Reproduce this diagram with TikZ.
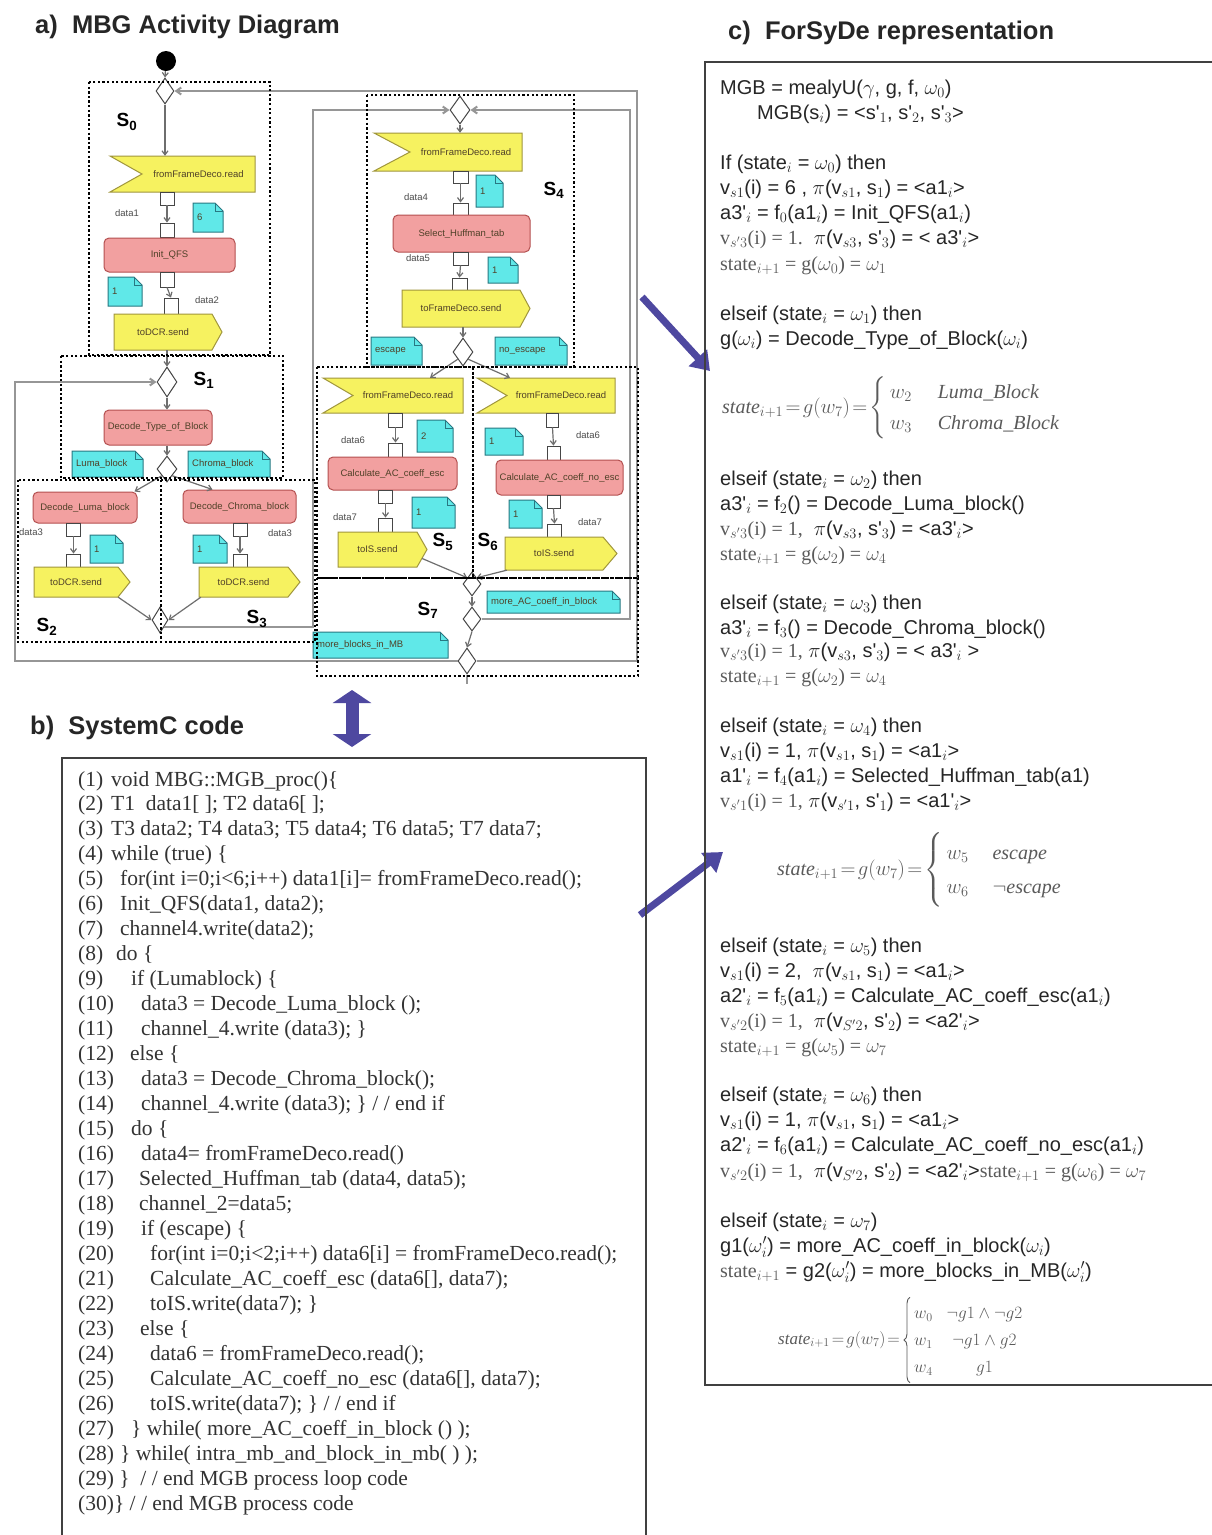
\documentclass[tikz,border=0pt]{standalone}
\usepackage{fontspec}
\usepackage{amsmath}
\setmainfont{Liberation Serif}
\newfontfamily\fsans{Liberation Sans}
\newfontfamily\fserif{Liberation Serif}
\usetikzlibrary{arrows.meta,shapes.geometric,decorations.pathreplacing}
\definecolor{yfill}{RGB}{246,242,96}
\definecolor{ydraw}{RGB}{160,150,60}
\definecolor{pfill}{RGB}{242,160,160}
\definecolor{pdraw}{RGB}{180,80,80}
\definecolor{cfill}{RGB}{96,232,232}
\definecolor{cdraw}{RGB}{40,120,130}
\definecolor{arrc}{RGB}{78,72,160}
\definecolor{flowc}{RGB}{110,110,110}
\definecolor{loopc}{RGB}{150,150,150}
\definecolor{ntext}{RGB}{80,65,40}
\definecolor{serc}{RGB}{90,90,90}
\newcommand\tinyf{\fsans\fontsize{9.5}{11}\selectfont}
\newcommand\sercol{\fserif\color{serc}}
\tikzset{
 flowarr/.style={draw=flowc, line width=1.2pt, -{Straight Barb[length=4pt,width=6pt]}},
 loopline/.style={draw=loopc, line width=2pt, -{Straight Barb[length=5pt,width=7pt]}},
 plainloop/.style={draw=loopc, line width=2pt},
 pinbox/.style={draw=gray!55!black, fill=white, line width=0.9pt, inner sep=0, minimum width=14pt, minimum height=13pt},
 actbox/.style={draw=pdraw, fill=pfill, rounded corners=5pt, line width=1pt, inner sep=0, font=\tinyf, text=ntext},
 sigst/.style={draw=ydraw, fill=yfill, line width=1pt, line join=miter},
 notest/.style={draw=cdraw, fill=cfill, line width=1pt},
 notefold/.style={draw=cdraw, line width=0.8pt},
 nodetext/.style={font=\tinyf, text=ntext, inner sep=0},
 diam/.style={diamond, draw=gray!55!black, fill=white, inner sep=0, line width=1pt},
 sdotted/.style={draw=black, line width=2.3pt, dash pattern=on 2.3pt off 2.3pt},
 slab/.style={font=\fsans\bfseries\fontsize{19}{22}\selectfont, inner sep=0},
 dlab/.style={font=\tinyf, text=gray!60!black, inner sep=0},
 head/.style={font=\fsans\bfseries\fontsize{25.5}{30}\selectfont, anchor=base west, inner sep=0, text=black!85},
 fsline/.style={font=\fsans\fontsize{20}{24}\selectfont, anchor=base west, inner sep=0, text=black!85},
 fsform/.style={font=\fserif\fontsize{20}{31}\selectfont, anchor=west, inner sep=0, text=serc},
 codef/.style={font=\fserif\fontsize{21.5}{25}\selectfont, anchor=base west, inner sep=0, text=black!80},
 boxline/.style={draw=black!75, line width=2pt},
 bigarr/.style={draw=arrc, line width=7pt, -{Triangle[length=18pt,width=24pt]}},
 dblarr/.style={draw=arrc, line width=13pt, {Triangle[length=13pt,width=38pt]}-{Triangle[length=13pt,width=38pt]}},
 bracest/.style={draw=serc, line width=0.9pt, decorate, decoration={brace, amplitude=6pt}},
}
% receive signal: name, xl, xr, yt, yb, notch, text
\newcommand\recvsig[7]{%
 \draw[sigst] (#2,#4) -- (#3,#4) -- (#3,#5) -- (#2,#5) -- ({#2+#6},{(#4+#5)/2}) -- cycle;
 \node[inner sep=0, minimum width={#3-#2}, minimum height={#5-#4}] (#1) at ({(#2+#3)/2},{(#4+#5)/2}) {};
 \node[nodetext] (#1t) at ({(#2+#6+#3)/2},{(#4+#5)/2}) {#7};}
% send signal: name, xl, xr, yt, yb, tip, text
\newcommand\sendsig[7]{%
 \draw[sigst] (#2,#4) -- ({#3-#6},#4) -- (#3,{(#4+#5)/2}) -- ({#3-#6},#5) -- (#2,#5) -- cycle;
 \node[inner sep=0, minimum width={#3-#2}, minimum height={#5-#4}] (#1) at ({(#2+#3)/2},{(#4+#5)/2}) {};
 \node[nodetext] (#1t) at ({(#2+#3-#6)/2},{(#4+#5)/2}) {#7};}
% note: name, xl, xr, yt, yb, text
\newcommand\notedoc[6]{%
 \draw[notest] (#2,#4) -- ({#3-8},#4) -- (#3,{#4+8}) -- (#3,#5) -- (#2,#5) -- cycle;
 \draw[notefold] ({#3-8},#4) -- ({#3-8},{#4+8}) -- (#3,{#4+8});
 \node[nodetext, anchor=west] (#1) at ({#2+4},{(#4+#5)/2}) {#6};}
\newcommand\codeln[3]{%
 \node[codef] (cn#1) at (78,{786+(#1-1)*24.966}) {(#1)};
 \node[codef] (cl#1) at (#2,{786+(#1-1)*24.966}) {#3};}
\newcommand\fsyline[3]{\node[fsline] (#1) at (720,{#2+7}) {#3};}
\begin{document}
\begin{tikzpicture}[x=1pt,y=-1pt]
\useasboundingbox (0,0) rectangle (1212,1535);
\fill[white] (0,0) rectangle (1212,1535);

% ---------------- headings
\node[head] (ha) at (35,33) {a)\ \ MBG Activity Diagram};
\node[head] (hc) at (728,39) {c)\ \ ForSyDe representation};
\node[head] (hb) at (30,734) {b)\ \ SystemC code};

% ---------------- loop coordinates
\coordinate (cIL) at (313,110);
\coordinate (cIR) at (630,110);
\coordinate (cOL) at (15,382);
\coordinate (cOR) at (637,91);
\coordinate (cEx) at (467,684);

% ---------------- diamonds and start
\node[circle, fill=black, minimum size=20pt, inner sep=0] (init) at (166,61) {};
\node[diam, minimum width=18pt, minimum height=26pt] (d0) at (165,91) {};
\node[diam, minimum width=20pt, minimum height=30pt] (d1) at (167,382) {};
\node[diam, minimum width=20pt, minimum height=26pt] (d2) at (167,469) {};
\node[diam, minimum width=16pt, minimum height=26pt] (m1) at (160,620) {};
\node[diam, minimum width=20pt, minimum height=28pt] (d4) at (460,110) {};
\node[diam, minimum width=20pt, minimum height=28pt] (d5) at (463,352) {};
\node[diam, minimum width=18pt, minimum height=24pt] (m2) at (472,584) {};
\node[diam, minimum width=18pt, minimum height=24pt] (d6) at (472,619) {};
\node[diam, minimum width=18pt, minimum height=26pt] (d7) at (467,661) {};

% ---------------- loop lines
\draw[loopline] (m1.south east) -- (m1.south east -| cIL) -- (cIL) -- (d4.west);
\draw[loopline] (d6.east) -- (d6.east -| cIR) -- (cIR) -- (d4.east);
\draw[loopline] (d7.west) -- (d7.west -| cOL) -- (cOL) -- (d1.west);
\draw[loopline] (d7.east) -- (d7.east -| cOR) -- (cOR) -- (d0.east);
\draw[plainloop] (d7.south) -- (cEx);

% ---------------- S0
\recvsig{r1}{110}{255}{156}{192}{32}{fromFrameDeco.read}
\node[pinbox] (p1o) at (167,198.5) {};
\node[pinbox, minimum height=14pt] (p1i) at (167,230) {};
\node[dlab] (l1) at (127,213) {data1};
\notedoc{n0a}{193}{223}{203}{232}{6}
\node[actbox, minimum width=131pt, minimum height=34pt] (iqfs) at (169.5,255) {Init\_QFS};
\node[pinbox, minimum height=15pt] (p2o) at (167,279.5) {};
\node[pinbox, minimum height=16pt] (p2i) at (171,306) {};
\notedoc{n0b}{108}{142}{277}{306}{1}
\node[dlab] (l2) at (207,300) {data2};
\sendsig{s1}{114}{222}{314}{350}{10}{toDCR.send}

% ---------------- S1
\node[actbox, minimum width=108pt, minimum height=35pt] (dtb) at (158,427.5) {Decode\_Type\_of\_Block};
\notedoc{nl}{72}{143}{451}{477}{Luma\_block}
\notedoc{nc}{188}{270}{451}{477}{Chroma\_block}

% ---------------- S2 / S3
\node[actbox, minimum width=104pt, minimum height=31pt] (dlb) at (85,507.5) {Decode\_Luma\_block};
\node[actbox, minimum width=113pt, minimum height=33pt] (dcb) at (239.5,506.5) {Decode\_Chroma\_block};
\node[dlab] (l3a) at (31,532) {data3};
\node[dlab] (l3b) at (280,533) {data3};
\node[pinbox] (p3o) at (73.5,529.5) {};
\node[pinbox] (p3i) at (73.5,560.5) {};
\node[pinbox] (p4o) at (240,529.5) {};
\node[pinbox] (p4i) at (240,560.5) {};
\notedoc{n2}{90}{123}{535}{563}{1}
\notedoc{n3}{193}{227}{535}{563}{1}
\sendsig{s2}{34}{130}{567}{597}{12}{toDCR.send}
\sendsig{s3}{199}{300}{567}{597}{12}{toDCR.send}

% ---------------- S4
\recvsig{r4}{374}{522}{133}{171}{36}{fromFrameDeco.read}
\node[pinbox, minimum width=15pt, minimum height=12pt] (p5o) at (460.5,177) {};
\node[pinbox, minimum width=15pt, minimum height=12pt] (p5i) at (460.5,209) {};
\notedoc{n4a}{476}{503}{175}{207}{1}
\node[dlab] (l4) at (416,197) {data4};
\node[actbox, minimum width=137pt, minimum height=37pt] (shb) at (461.5,233.5) {Select\_Huffman\_tab};
\node[dlab] (l5) at (418,258) {data5};
\node[pinbox, minimum width=15pt] (p6o) at (460.5,258.5) {};
\node[pinbox, minimum width=15pt, minimum height=12pt] (p6i) at (459.5,284) {};
\notedoc{n4b}{488}{518}{257}{283}{1}
\sendsig{s4}{402}{530}{290}{327}{10}{toFrameDeco.send}
\notedoc{nesc}{371}{422}{337}{365}{escape}
\notedoc{nnesc}{495}{567}{337}{365}{no\_escape}

% ---------------- S5
\recvsig{r5}{323}{463}{378}{413}{30}{fromFrameDeco.read}
\node[pinbox, minimum height=14pt] (p7o) at (395.5,420) {};
\node[pinbox, minimum height=14pt] (p7i) at (395.5,450) {};
\node[dlab] (l6a) at (353,440) {data6};
\notedoc{n5a}{417}{453}{420}{452}{2}
\node[actbox, minimum width=129pt, minimum height=33pt] (cae) at (392.5,473.5) {Calculate\_AC\_coeff\_esc};
\node[pinbox] (p8o) at (385.5,496.5) {};
\node[pinbox, minimum height=14pt] (p8i) at (385.5,525) {};
\node[dlab] (l7a) at (345,517) {data7};
\notedoc{n5b}{412}{455}{497}{528}{1}
\sendsig{s5}{338}{427}{532}{567}{10}{toIS.send}

% ---------------- S6
\recvsig{r6}{477}{615}{378}{413}{30}{fromFrameDeco.read}
\node[pinbox, minimum width=12pt, minimum height=14pt] (p9o) at (552.5,420) {};
\node[pinbox, minimum width=13pt, minimum height=14pt] (p9i) at (553.5,453) {};
\node[dlab] (l6b) at (588,435) {data6};
\notedoc{n6a}{485}{523}{428}{455}{1}
\node[actbox, minimum width=127pt, minimum height=35pt] (caen) at (559.5,477.5) {Calculate\_AC\_coeff\_no\_esc};
\node[pinbox, minimum width=13pt] (p10o) at (553.5,501.5) {};
\node[pinbox] (p10i) at (554.5,530.5) {};
\node[dlab] (l7b) at (590,522) {data7};
\notedoc{n6b}{509}{542}{500}{528}{1}
\sendsig{s6}{505}{617}{537}{570}{14}{toIS.send}

% ---------------- S7 notes
\notedoc{nmac}{487}{620}{591}{613}{more\_AC\_coeff\_in\_block}
\notedoc{nmb}{313}{448}{632}{658}{more\_blocks\_in\_MB}

% ---------------- flow arrows
\draw[flowarr] (init) -- (d0.north);
\draw[flowarr] (d0.south) -- (d0.south |- r1.north);
\draw[flowarr] (p1o.south) -- (p1i.north);
\draw[flowarr] (p2o.south) -- (p2i.north);
\draw[flowarr] (d1.north |- s1.south) -- (d1.north);
\draw[flowarr] (d1.south) -- (d1.south |- dtb.north);
\draw[flowarr] (d2.north |- dtb.south) -- (d2.north);
\draw[flowarr] (d2.south west) -- ([xshift=-3pt]dlb.north east);
\draw[flowarr] (d2.south east) -- ([xshift=30pt]dcb.north west);
\draw[flowarr] (p3o.south) -- (p3i.north);
\draw[flowarr] (p4o.south) -- (p4i.north);
\draw[flowarr] ([xshift=-12pt]s2.south east) -- (m1.west);
\draw[flowarr] ([xshift=2pt]s3.south west) -- (m1.east);
\draw[flowarr] (d4.south) -- (d4.south |- r4.north);
\draw[flowarr] (p5o.south) -- (p5i.north);
\draw[flowarr] (p6o.south) -- (p6i.north);
\draw[flowarr] (d5.north |- s4.south) -- (d5.north);
\draw[flowarr] (d5.south west) -- ([xshift=37pt]r5.north);
\draw[flowarr] (d5.south east) -- ([xshift=-36pt]r6.north);
\draw[flowarr] (p7o.south) -- (p7i.north);
\draw[flowarr] (p8o.south) -- (p8i.north);
\draw[flowarr] (p9o.south) -- (p9i.north);
\draw[flowarr] (p10o.south) -- (p10i.north);
\draw[flowarr] ([xshift=-5pt,yshift=-9pt]s5.east) -- (m2.north west);
\draw[flowarr] ([xshift=2pt]s6.south west) -- (m2.north east);
\draw[flowarr] (m2.south) -- (d6.north);
\draw[flowarr] (d6.south) -- (d7.north);

% ---------------- dotted state boxes
\draw[sdotted] (89,82) rectangle (270,355);
\draw[sdotted] (61,356) rectangle (283,478);
\draw[sdotted] (18,480) rectangle (161,642);
\draw[sdotted] (161,480) rectangle (315,642);
\draw[sdotted] (367,95) rectangle (574,367);
\draw[sdotted] (317,367) rectangle (473,578);
\draw[sdotted] (473,367) rectangle (638,578);
\draw[sdotted] (317,578) rectangle (638,676);
\node[slab] (lS0) at (127,122) {S\textsubscript{0}};
\node[slab] (lS1) at (204,380) {S\textsubscript{1}};
\node[slab] (lS2) at (47,627) {S\textsubscript{2}};
\node[slab] (lS3) at (257,619) {S\textsubscript{3}};
\node[slab] (lS4) at (554,190) {S\textsubscript{4}};
\node[slab] (lS5) at (443,542) {S\textsubscript{5}};
\node[slab] (lS6) at (488,542) {S\textsubscript{6}};
\node[slab] (lS7) at (428,610) {S\textsubscript{7}};

% ---------------- big arrows
\coordinate (ba1s) at (642,297);
\coordinate (ba1e) at (710,371);
\coordinate (ba2s) at (640,915);
\coordinate (ba2e) at (723,852);
\coordinate (ba3s) at (352,690);
\coordinate (ba3e) at (352,747);
\draw[bigarr] (ba1s) -- (ba1e);
\draw[bigarr] (ba2s) -- (ba2e);
\draw[dblarr] (ba3s) -- (ba3e);

% ---------------- ForSyDe box
\draw[boxline] (1212,62) -- (705,62) -- (705,1385) -- (1212,1385);
\fsyline{f1}{87}{MGB = mealyU($\gamma$, g, f, $\omega_0$)}
\node[fsline] (f2) at (757,119) {MGB(s$_i$) = <s'$_1$, s'$_2$, s'$_3$>};
\fsyline{f3}{162}{If (state$_i$ = $\omega_0$) then}
\fsyline{f4}{187}{v$_{s1}$(i) = 6 , $\pi$(v$_{s1}$, s$_1$) = <a1$_i$>}
\fsyline{f5}{212}{a3'$_i$ = f$_0$(a1$_i$) = Init\_QFS(a1$_i$)}
\fsyline{f6}{237}{{\sercol v$_{s'3}$(i) = 1.}\ \ $\pi$(v$_{s3}$, s'$_3$) = < a3'$_i$>}
\fsyline{f7}{263}{\sercol state$_{i+1}$ = g($\omega_0$) = $\omega_1$}
\fsyline{f8}{313}{elseif (state$_i$ = $\omega_1$) then}
\fsyline{f9}{338}{g($\omega_i$) = Decode\_Type\_of\_Block($\omega_i$)}
\node[fsform] (F1) at (722,408) {$\thickmuskip=2mu \mathit{state}_{i+1} = g(w_7) = \left\{\,\begin{array}{@{}l@{\hspace{26pt}}l@{}} w_2 & \mathit{Luma\_Block}\\ w_3 & \mathit{Chroma\_Block}\end{array}\right.$};
\fsyline{f10}{478}{elseif (state$_i$ = $\omega_2$) then}
\fsyline{f11}{503}{a3'$_i$ = f$_2$() = Decode\_Luma\_block()}
\fsyline{f12}{528}{{\sercol v$_{s'3}$(i) = 1,}\ \ $\pi$(v$_{s3}$, s'$_3$) = <a3'$_i$>}
\fsyline{f13}{553}{\sercol state$_{i+1}$ = g($\omega_2$) = $\omega_4$}
\fsyline{f14}{602}{elseif (state$_i$ = $\omega_3$) then}
\fsyline{f15}{627}{a3'$_i$ = f$_3$() = Decode\_Chroma\_block()}
\fsyline{f16}{650}{{\sercol v$_{s'3}$(i) = 1,} $\pi$(v$_{s3}$, s'$_3$) = < a3'$_i$ >}
\fsyline{f17}{675}{\sercol state$_{i+1}$ = g($\omega_2$) = $\omega_4$}
\fsyline{f18}{725}{elseif (state$_i$ = $\omega_4$) then}
\fsyline{f19}{750}{v$_{s1}$(i) = 1, $\pi$(v$_{s1}$, s$_1$) = <a1$_i$>}
\fsyline{f20}{775}{a1'$_i$ = f$_4$(a1$_i$) = Selected\_Huffman\_tab(a1)}
\fsyline{f21}{800}{{\sercol v$_{s'1}$(i) = 1,} $\pi$(v$_{s'1}$, s'$_1$) = <a1'$_i$>}
\node[fsform, font=\fserif\fontsize{20}{34}\selectfont] (F2) at (777,870) {$\thickmuskip=2mu \mathit{state}_{i+1} = g(w_7) = \left\{\,\begin{array}{@{}l@{\hspace{24pt}}l@{}} w_5 & \mathit{escape}\\ w_6 & \neg\mathit{escape}\end{array}\right.$};
\fsyline{f22}{945}{elseif (state$_i$ = $\omega_5$) then}
\fsyline{f23}{970}{v$_{s1}$(i) = 2,\ \ $\pi$(v$_{s1}$, s$_1$) = <a1$_i$>}
\fsyline{f24}{995}{a2'$_i$ = f$_5$(a1$_i$) = Calculate\_AC\_coeff\_esc(a1$_i$)}
\fsyline{f25}{1020}{{\sercol v$_{s'2}$(i) = 1,}\ \ $\pi$(v$_{S'2}$, s'$_2$) = <a2'$_i$>}
\fsyline{f26}{1045}{\sercol state$_{i+1}$ = g($\omega_5$) = $\omega_7$}
\fsyline{f27}{1094}{elseif (state$_i$ = $\omega_6$) then}
\fsyline{f28}{1119}{v$_{s1}$(i) = 1, $\pi$(v$_{s1}$, s$_1$) = <a1$_i$>}
\fsyline{f29}{1144}{a2'$_i$ = f$_6$(a1$_i$) = Calculate\_AC\_coeff\_no\_esc(a1$_i$)}
\fsyline{f30}{1170}{{\sercol v$_{s'2}$(i) = 1,}\ \ $\pi$(v$_{S'2}$, s'$_2$) = <a2'$_i$>{\sercol state$_{i+1}$ = g($\omega_6$) = $\omega_7$}}
\fsyline{f31}{1220}{elseif (state$_i$ = $\omega_7$)}
\fsyline{f32}{1245}{g1($\omega'_i$) = more\_AC\_coeff\_in\_block($\omega_i$)}
\fsyline{f33}{1270}{{\sercol state$_{i+1}$} = g2($\omega'_i$) = more\_blocks\_in\_MB($\omega'_i$)}
\node[fsform, font=\fserif\fontsize{17}{27}\selectfont] (F3a) at (778,1340) {$\thickmuskip=2mu \mathit{state}_{i+1} = g(w_7) =$};
\node[fsform, font=\fserif\fontsize{17}{27}\selectfont] (F3b) at (914,1340) {$\begin{array}{@{}l@{\hspace{14pt}}c@{}} w_0 & \neg g1\wedge\neg g2\\ w_1 & \neg g1\wedge g2\\ w_4 & g1\end{array}$};
\draw[bracest] ([xshift=-4pt,yshift=-2pt]F3b.south west) -- ([xshift=-4pt,yshift=2pt]F3b.north west);

% ---------------- SystemC code box
\draw[boxline] (62,1535) -- (62,758) -- (646,758) -- (646,1535);
\codeln{1}{111}{void MBG::MGB\_proc()\{}
\codeln{2}{111}{T1\ \ data1[ ]; T2 data6[ ];}
\codeln{3}{111}{T3 data2; T4 data3; T5 data4; T6 data5; T7 data7;}
\codeln{4}{111}{while (true) \{}
\codeln{5}{120}{for(int i=0;i<6;i++) data1[i]= fromFrameDeco.read();}
\codeln{6}{120}{Init\_QFS(data1, data2);}
\codeln{7}{120}{channel4.write(data2);}
\codeln{8}{116}{do \{}
\codeln{9}{131}{if (Lumablock) \{}
\codeln{10}{141}{data3 = Decode\_Luma\_block ();}
\codeln{11}{141}{channel\_4.write (data3); \}}
\codeln{12}{130}{else \{}
\codeln{13}{141}{data3 = Decode\_Chroma\_block();}
\codeln{14}{141}{channel\_4.write (data3); \} / / end if}
\codeln{15}{131}{do \{}
\codeln{16}{141}{data4= fromFrameDeco.read()}
\codeln{17}{139}{Selected\_Huffman\_tab (data4, data5);}
\codeln{18}{139}{channel\_2=data5;}
\codeln{19}{141}{if (escape) \{}
\codeln{20}{150}{for(int i=0;i<2;i++) data6[i] = fromFrameDeco.read();}
\codeln{21}{150}{Calculate\_AC\_coeff\_esc (data6[], data7);}
\codeln{22}{150}{toIS.write(data7); \}}
\codeln{23}{140}{else \{}
\codeln{24}{150}{data6 = fromFrameDeco.read();}
\codeln{25}{150}{Calculate\_AC\_coeff\_no\_esc (data6[], data7);}
\codeln{26}{150}{toIS.write(data7); \} / / end if}
\codeln{27}{131}{\} while( more\_AC\_coeff\_in\_block () );}
\codeln{28}{120}{\} while( intra\_mb\_and\_block\_in\_mb( ) );}
\node[codef] (cl29) at (78,{786+28*24.966}) {(29) \}\ \ / / end MGB process loop code};
\node[codef] (cl30) at (78,{786+29*24.966}) {(30)\} / / end MGB process code};
\end{tikzpicture}
\end{document}
